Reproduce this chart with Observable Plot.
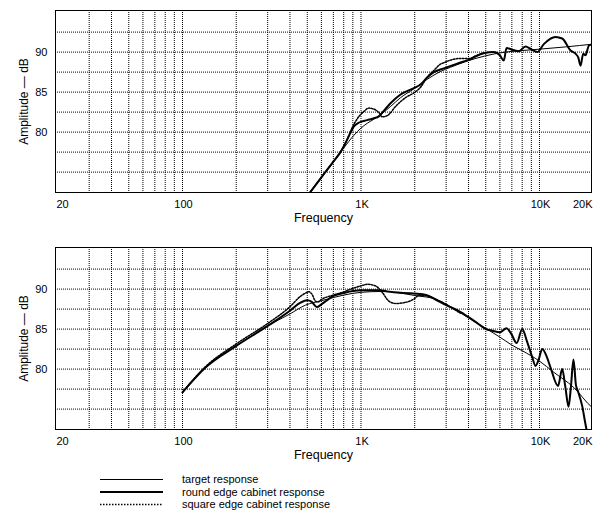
<!DOCTYPE html>
<html><head><meta charset="utf-8">
<script src="https://cdn.jsdelivr.net/npm/d3@7"></script>
<script src="https://cdn.jsdelivr.net/npm/@observablehq/plot@0.6"></script>
<style>
body{margin:0;background:#fff;}
#root{position:relative;width:601px;height:527px;background:#fff;font-family:"Liberation Sans",Arial,Helvetica,sans-serif;}
#root svg{display:block;}
</style></head><body><div id="root"></div>
<script>
// ---- axes / ticks ----
const xDomain = [19.43, 19557];
const yDomain = [72.45, 95.2];
const gridFreqs = [30,40,50,60,70,80,90,100,200,300,400,500,600,700,800,900,1000,2000,3000,4000,5000,6000,7000,8000,9000,10000];
const gridDb = [75,77.5,80,82.5,85,87.5,90,92.5];
const yTickValues = [80,85,90];
const xTickMid = [{f:100,label:"100"},{f:1000,label:"1K"},{f:10000,label:"10K"}];
const xTickEdge = ["20","20K"];
const xLabel = "Frequency";
const yLabel = "Amplitude — dB";
const seriesNames = ["target response","round edge cabinet response","square edge cabinet response"];

// ---- top panel series: [frequency Hz, dB] ----
const topTarget = [[500,72.0],[600,74.35],[700,76.3],[800,78.0],[912,79.6],[1000,80.5],[1083,81.1],[1258,82.0],[1463,83.2],[1665,84.3],[1977,85.4],[2350,86.6],[2800,87.6],[3170,88.1],[3963,88.9],[4920,89.5],[5995,89.9],[8000,90.2],[9800,90.35],[14000,90.65],[20000,91.0]];
const topRound = [[500,72.0],[600,74.35],[700,76.3],[767,77.5],[830,78.9],[877,80.0],[912,80.7],[977,81.2],[1083,81.5],[1170,81.7],[1264,82.0],[1360,82.8],[1463,83.6],[1665,84.7],[1977,85.5],[2173,86.0],[2338,86.8],[2558,87.5],[2937,88.0],[3400,88.5],[3963,89.0],[4920,89.9],[5546,90.0],[5995,89.6],[6310,88.95],[6535,90.5],[7030,90.3],[7656,90.1],[8350,90.7],[8912,90.4],[9710,90.0],[10570,91.0],[12300,91.9],[13400,91.7],[14920,90.2],[15910,89.8],[16500,89.3],[16980,88.3],[17580,89.8],[18100,89.6],[18890,90.8],[19730,90.95],[20000,91.0]];
const topSquare = [[500,72.0],[600,74.35],[700,76.3],[767,77.5],[830,78.9],[877,80.2],[930,81.3],[977,82.0],[1040,82.6],[1106,83.0],[1170,82.9],[1264,82.4],[1314,81.9],[1413,82.1],[1561,83.2],[1775,84.3],[1977,84.9],[2173,85.7],[2338,86.8],[2558,87.7],[2788,88.5],[2937,88.7],[3170,89.0],[3607,89.2],[4105,89.2],[4285,89.4],[4920,89.9]];

// ---- bottom panel series ----
const bottomTarget = [[100,77.1],[134.5,80.2],[200,82.9],[300,85.4],[400,86.9],[489,88.0],[600,88.55],[700,88.95],[800,89.25],[1000,89.6],[1300,89.7],[1600,89.55],[2000,89.2],[2614,88.75],[3000,88.1],[4000,86.4],[5000,85.1],[6000,84.0],[7000,83.0],[8000,82.3],[10000,81.0],[12030,79.6],[15560,77.7],[19730,75.2],[20000,75.1]];
const bottomRound = [[100,77.1],[134.5,80.2],[200,82.9],[300,85.4],[400,87.3],[458,88.3],[500,88.6],[530,88.4],[566,87.75],[600,88.1],[640,88.55],[700,89.15],[800,89.5],[900,89.75],[1000,89.85],[1233,89.85],[1527,89.6],[1977,89.45],[2338,89.25],[2614,88.7],[3000,88.0],[3500,87.3],[4000,86.5],[4477,85.75],[5000,85.0],[5430,84.8],[6000,84.6],[6535,85.1],[6950,84.4],[7450,83.25],[8000,85.0],[8500,83.5],[9100,81.5],[9500,80.4],[9900,81.2],[10350,82.5],[11000,81.5],[11530,80.2],[12700,77.9],[13400,80.0],[13950,77.8],[14550,75.3],[15000,77.8],[15500,81.2],[16000,78.0],[16450,77.2],[17340,75.4],[18100,73.1],[19000,70.8]];
const bottomSquare = [[100,77.1],[134.5,80.3],[200,83.15],[300,85.7],[400,87.8],[458,89.1],[489,89.5],[510,89.67],[530,89.4],[556,88.5],[575,88.4],[600,88.7],[700,89.25],[800,89.65],[900,90.1],[1000,90.4],[1083,90.6],[1206,90.4],[1314,89.6],[1432,88.5],[1561,88.2],[1738,88.3],[1977,88.75],[2108,89.2],[2338,89.15],[2614,88.75],[2937,88.2],[3250,87.6],[3600,87.0]];

const FONT = '"Liberation Sans", Arial, Helvetica, sans-serif';
const styles = [
  {stroke:"#000", strokeWidth:1},
  {stroke:"#000", strokeWidth:2},
  {stroke:"#000", strokeWidth:1.5, strokeDasharray:"1.5,1.5"}
];

function panel(target, round, square, height, marginTop) {
  const acc = {x: d => d[0], y: d => d[1], curve: "monotone-x", clip: true};
  return Plot.plot({
    width: 601, height, marginTop, marginBottom: 38, marginLeft: 55, marginRight: 10,
    x: {type: "log", domain: xDomain, axis: null},
    y: {domain: yDomain, axis: null},
    style: {fontFamily: FONT, fontSize: "11px", color: "#000", background: "#fff", overflow: "visible"},
    marks: [
      Plot.ruleX(gridFreqs, {x: d => d, stroke: "#000", strokeWidth: 1, strokeDasharray: "1,1"}),
      Plot.ruleY(gridDb, {y: d => d, stroke: "#000", strokeWidth: 1, strokeDasharray: "1,1"}),
      Plot.line(square, {...acc, ...styles[2]}),
      Plot.line(target, {...acc, ...styles[0]}),
      Plot.line(round, {...acc, ...styles[1]}),
      Plot.frame({stroke: "#000", strokeWidth: 1}),
      Plot.text(yTickValues, {y: d => d, text: d => String(d), frameAnchor: "left", textAnchor: "end", lineAnchor: "middle", dx: -8, fontSize: 11}),
      Plot.text(xTickMid, {x: "f", text: "label", frameAnchor: "bottom", textAnchor: "middle", lineAnchor: "middle", dy: 12, dx: 1, fontSize: 11}),
      Plot.text([xTickEdge[0]], {text: d => d, frameAnchor: "bottom-left", textAnchor: "start", lineAnchor: "middle", dy: 12, dx: 1, fontSize: 11}),
      Plot.text([xTickEdge[1]], {text: d => d, frameAnchor: "bottom-right", textAnchor: "end", lineAnchor: "middle", dy: 12, dx: 1, fontSize: 11}),
      Plot.text([xLabel], {text: d => d, frameAnchor: "bottom", textAnchor: "middle", lineAnchor: "middle", dy: 25.5, fontSize: 12.5}),
      Plot.text([yLabel], {text: d => d, frameAnchor: "left", textAnchor: "middle", lineAnchor: "middle", dx: -31, rotate: -90, fontSize: 12})
    ]
  });
}

const root = document.getElementById("root");
root.appendChild(panel(topTarget, topRound, topSquare, 230, 10));
root.appendChild(panel(bottomTarget, bottomRound, bottomSquare, 237, 17));

// legend
const leg = d3.select(root).append("svg").attr("width", 601).attr("height", 60)
  .style("font-family", FONT);
const rowY = [12.5, 25, 37.5];
seriesNames.forEach((name, i) => {
  const s = styles[i];
  leg.append("line").attr("x1", 100).attr("x2", 163).attr("y1", rowY[i]).attr("y2", rowY[i])
    .attr("stroke", s.stroke).attr("stroke-width", s.strokeWidth)
    .attr("stroke-dasharray", s.strokeDasharray || null);
  leg.append("text").attr("x", 182).attr("y", rowY[i]).attr("dy", "0.36em")
    .attr("font-size", 11).attr("fill", "#000").text(name);
});
</script></body></html>
